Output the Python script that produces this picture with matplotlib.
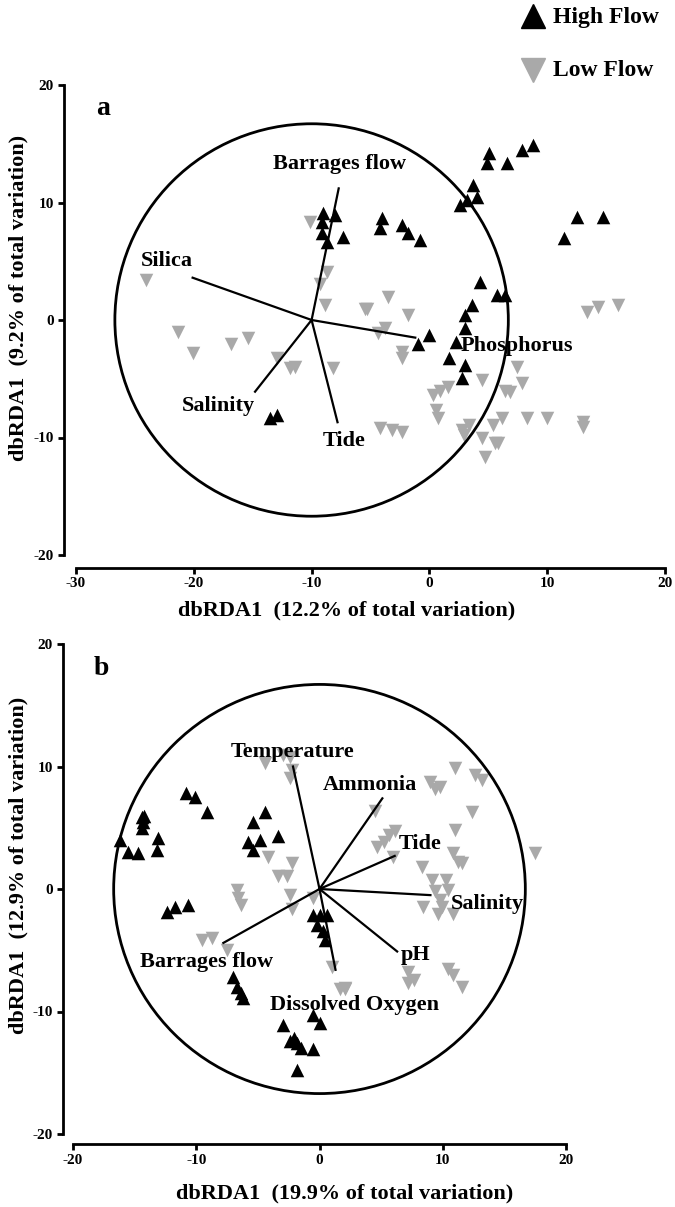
import numpy as np
import matplotlib
matplotlib.use("Agg")
import matplotlib.pyplot as plt
from matplotlib.patches import Circle
from matplotlib.lines import Line2D

plt.rcParams['font.family'] = ['Liberation Serif', 'DejaVu Serif']
plt.rcParams['font.weight'] = 'bold'
plt.rcParams['axes.unicode_minus'] = False

# ---- panel a data ----
a_high_x = [-9.0, -8.0, -9.1, -9.1, -8.7, -7.3, -13.5, -12.9,
            5.1, 4.9, 6.6, 7.9, 8.8, 3.7, 4.0, 3.2, 2.6,
            -4.0, -4.2, -2.3, -1.8, -0.8, 12.5, 14.7, 11.4,
            4.3, 5.7, 6.4, 3.6, 3.0, 3.0, 2.3, -1.0, 0.0, 1.7, 3.0, 2.8]
a_high_y = [9.1, 8.9, 8.3, 7.4, 6.6, 7.1, -8.3, -8.1,
            14.2, 13.4, 13.4, 14.5, 14.9, 11.5, 10.5, 10.2, 9.8,
            8.7, 7.8, 8.1, 7.4, 6.8, 8.8, 8.8, 7.0,
            3.2, 2.1, 2.1, 1.3, 0.4, -0.7, -1.9, -2.0, -1.3, -3.2, -3.8, -4.9]
a_low_x = [-24.1, -10.1, -8.7, -9.3, -8.9, -5.5, -21.3, -20.1, -16.8, -15.4,
           -12.9, -11.8, -11.4, -8.2,
           -5.3, -3.5, -1.8, -3.8, -4.4, -2.3, -2.3, 13.4, 14.3, 16.0,
           7.4, 7.9, 4.5, 6.4, 6.8, 1.6, 0.9, 0.3, 0.6, 0.7,
           6.2, 8.3, 10.0, 13.0, 13.0, 5.4, 3.4, 2.8, 2.9, 4.5, 5.6, 5.8, 4.7,
           -4.2, -3.2, -2.3]
a_low_y = [3.4, 8.3, 4.1, 3.1, 1.3, 0.9, -1.0, -2.8, -2.0, -1.5,
           -3.2, -4.1, -4.0, -4.1,
           0.9, 2.0, 0.4, -0.7, -1.1, -2.7, -3.2, 0.7, 1.1, 1.3,
           -4.0, -5.4, -5.1, -6.0, -6.1, -5.7, -6.0, -6.4, -7.7, -8.3,
           -8.3, -8.3, -8.3, -8.7, -9.1, -8.9, -8.9, -9.4, -9.8, -10.0, -10.5, -10.5, -11.7,
           -9.2, -9.4, -9.5]
a_vec_names = ['Barrages flow', 'Silica', 'Phosphorus', 'Salinity', 'Tide']
a_vec_x = [-7.7, -20.1, -1.2, -14.8, -7.8]
a_vec_y = [11.2, 3.6, -1.5, -6.1, -8.7]
a_origin = (-10.0, 0.0)
a_radius = 16.7

# ---- panel b data ----
b_high_x = [-16.2, -15.5, -14.7, -14.4, -14.2, -14.3, -14.4, -13.1, -13.2,
            -10.8, -10.1, -9.1, -12.4, -11.7, -10.7,
            -5.4, -4.4, -5.8, -4.8, -5.4, -3.4,
            -7.0, -6.7, -6.4, -6.2,
            -0.5, 0.0, 0.6, -0.2, 0.3, 0.45,
            -0.5, 0.0, -3.0, -2.1, -1.8, -0.5, -1.8, -2.4, -1.5]
b_high_y = [4.0, 3.0, 2.9, 5.9, 6.0, 5.5, 5.0, 4.2, 3.2,
            7.8, 7.5, 6.3, -1.9, -1.5, -1.3,
            5.5, 6.3, 3.8, 4.0, 3.2, 4.3,
            -7.2, -8.0, -8.5, -8.9,
            -2.1, -2.1, -2.1, -2.9, -3.4, -4.2,
            -10.3, -10.9, -11.1, -12.2, -12.6, -13.1, -14.8, -12.4, -13.0]
b_low_x = [-4.4, -3.0, -2.4, -2.2, -2.4, -4.2, -2.2, -3.4, -2.6,
           -6.7, -6.6, -6.4, -2.4, -2.2, -0.5, -9.5, -8.7, -7.5, 1.0, 2.1,
           4.5, 11.0, 12.6, 13.2, 9.0, 9.4, 9.8, 12.4, 11.0, 6.1, 5.6, 5.2, 4.7,
           6.0, 10.8, 11.2, 11.6, 17.5, 8.3, 9.1, 10.3, 10.4, 9.4, 9.8, 9.9,
           8.4, 9.6, 10.8, 7.2, 7.7, 7.2, 10.4, 10.8, 11.6, 2.1, 1.7]
b_low_y = [10.3, 10.9, 10.8, 9.7, 9.1, 2.6, 2.1, 1.1, 1.1,
           -0.1, -0.7, -1.3, -0.5, -1.6, -0.7, -4.2, -4.0, -5.0, -6.4, -8.1,
           6.4, 9.9, 9.3, 8.9, 8.7, 8.2, 8.3, 6.3, 4.8, 4.7, 4.4, 3.8, 3.4,
           2.6, 2.9, 2.2, 2.1, 2.9, 1.8, 0.7, 0.7, -0.1, -0.2, -0.9, -1.5,
           -1.5, -2.0, -2.0, -6.8, -7.4, -7.7, -6.5, -7.0, -8.0, -8.2, -8.2]
b_vec_names = ['Temperature', 'Ammonia', 'Tide', 'Salinity', 'pH',
               'Dissolved Oxygen', 'Barrages flow']
b_vec_x = [-2.15, 5.1, 6.1, 9.0, 6.3, 1.3, -7.8]
b_vec_y = [10.0, 7.4, 2.7, -0.5, -5.1, -6.6, -4.4]
b_origin = (0.0, 0.0)
b_radius = 16.7

# label anchor positions (data coords)
a_lab_pos = [(-7.6, 13.3), (-22.3, 5.0), (7.4, -2.2), (-17.9, -7.3), (-7.2, -10.3)]
b_lab_pos = [(-2.2, 11.2), (4.1, 8.5), (8.2, 3.7), (13.6, -1.2), (7.8, -5.4),
             (2.8, -9.5), (-9.2, -6.0)]

HIGH_C = 'black'
LOW_C = '#a9a9a9'
W, H = 675, 1207


def draw_panel(ax, hx, hy, lx, ly, origin, radius, names, vx, vy, lab_pos,
               xlim, letter, offset):
    ax.scatter(lx, ly, marker='v', s=95, color=LOW_C, linewidths=0, zorder=2)
    ax.scatter(hx, hy, marker='^', s=95, color=HIGH_C, linewidths=0, zorder=3)
    ax.add_patch(Circle(origin, radius, fill=False, lw=2, ec='black', zorder=4))
    for name, x, y, (tx, ty) in zip(names, vx, vy, lab_pos):
        ax.plot([origin[0], x], [origin[1], y], color='black', lw=1.6, zorder=4)
        ax.text(tx, ty, name, ha='center', va='center', fontsize=16,
                fontweight='bold', zorder=5)
    ax.text(xlim[0] + 2.3, 18.0, letter, fontsize=20, fontweight='bold',
            ha='center', va='center')
    ax.set_xlim(*xlim)
    ax.set_ylim(-20, 20)
    ax.set_xticks(np.arange(xlim[0], xlim[1] + 1, 10))
    ax.set_yticks([-20, -10, 0, 10, 20])
    for s in ['top', 'right']:
        ax.spines[s].set_visible(False)
    for s in ['left', 'bottom']:
        ax.spines[s].set_linewidth(2)
        ax.spines[s].set_position(('outward', offset))
    ax.spines['bottom'].set_bounds(*xlim)
    ax.spines['left'].set_bounds(-20, 20)
    ax.tick_params(width=2, length=4.5, labelsize=11, pad=2.5)
    for lab in ax.get_xticklabels() + ax.get_yticklabels():
        lab.set_fontweight('bold')


fig = plt.figure(figsize=(6.75, 12.07), dpi=100)
ax1 = fig.add_axes([76 / W, 1 - 555 / H, 589 / W, 470 / H])
ax2 = fig.add_axes([73 / W, 1 - 1134 / H, 493 / W, 490 / H])

draw_panel(ax1, a_high_x, a_high_y, a_low_x, a_low_y, a_origin, a_radius,
           a_vec_names, a_vec_x, a_vec_y, a_lab_pos, (-30, 20), 'a', 9)
draw_panel(ax2, b_high_x, b_high_y, b_low_x, b_low_y, b_origin, b_radius,
           b_vec_names, b_vec_x, b_vec_y, b_lab_pos, (-20, 20), 'b', 7.5)

# axis titles (placed in figure pixels)
lab_kw = dict(fontsize=16, fontweight='bold', ha='center', va='center')
fig.text(347 / W, 1 - 610 / H, 'dbRDA1  (12.2% of total variation)', **lab_kw)
fig.text(345 / W, 1 - 1193 / H, 'dbRDA1  (19.9% of total variation)', **lab_kw)
fig.text(18 / W, 1 - 298 / H, 'dbRDA1  (9.2% of total variation)', rotation=90, **lab_kw)
fig.text(18 / W, 1 - 865 / H, 'dbRDA1  (12.9% of total variation)', rotation=90, **lab_kw)

# legend
for label, mk, col, y in [('High Flow', '^', HIGH_C, 16), ('Low Flow', 'v', LOW_C, 70)]:
    fig.add_artist(Line2D([533 / W], [1 - y / H], marker=mk, color=col, ms=17,
                          ls='none', transform=fig.transFigure))
    fig.text(553 / W, 1 - (y + 1) / H, label, fontsize=17, fontweight='bold',
             ha='left', va='center')

fig.savefig('out.png', dpi=100)
